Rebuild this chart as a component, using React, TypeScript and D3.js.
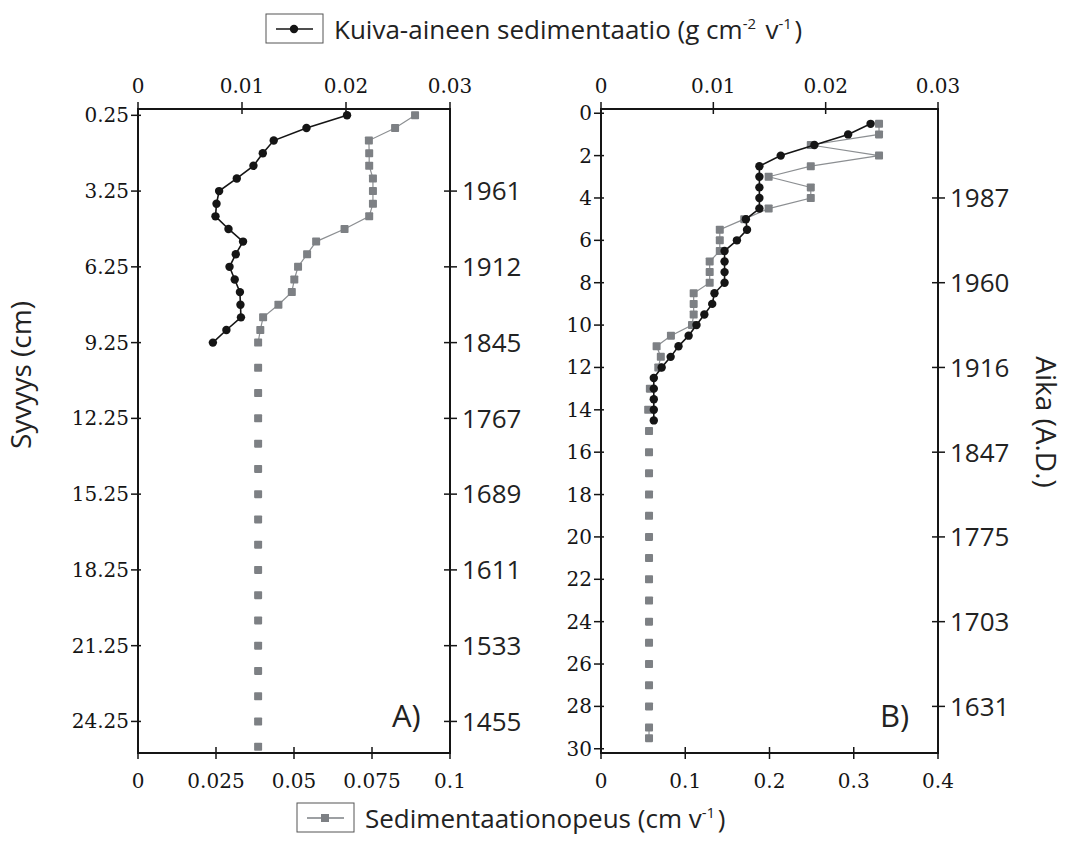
import React, { useRef, useEffect } from 'react';
import * as d3 from 'd3';

// Panel A: depth (cm) vs. dry mass sedimentation (top axis) and sedimentation rate (bottom axis)
const depthDryA = [0.25, 0.75, 1.25, 1.75, 2.25, 2.75, 3.25, 3.75, 4.25, 4.75, 5.25, 5.75, 6.25, 6.75, 7.25, 7.75, 8.25, 8.75, 9.25];
const dryA = [0.0201, 0.0162, 0.01305, 0.012, 0.0111, 0.0095, 0.0078, 0.00755, 0.00745, 0.0087, 0.0101, 0.0094, 0.0088, 0.0093, 0.0098, 0.00985, 0.0099, 0.0085, 0.0072];
const depthRateA = [0.25, 0.75, 1.25, 1.75, 2.25, 2.75, 3.25, 3.75, 4.25, 4.75, 5.25, 5.75, 6.25, 6.75, 7.25, 7.75, 8.25, 8.75, 9.25,
    10.25, 11.25, 12.25, 13.25, 14.25, 15.25, 16.25, 17.25, 18.25, 19.25, 20.25, 21.25, 22.25, 23.25, 24.25, 25.25];
const rateA = [0.0888, 0.0824, 0.074, 0.0741, 0.0741, 0.0753, 0.0753, 0.0753, 0.0741, 0.0662, 0.0571, 0.0542, 0.0513, 0.0501, 0.0493, 0.045, 0.0401, 0.0392, 0.0385,
    0.0385, 0.0385, 0.0385, 0.0385, 0.0385, 0.0385, 0.0385, 0.0385, 0.0385, 0.0385, 0.0385, 0.0385, 0.0385, 0.0385, 0.0385, 0.0385];
const depthTicksA = [0.25, 3.25, 6.25, 9.25, 12.25, 15.25, 18.25, 21.25, 24.25];
const yearTicksA = [[3.25, '1961'], [6.25, '1912'], [9.25, '1845'], [12.25, '1767'], [15.25, '1689'], [18.25, '1611'], [21.25, '1533'], [24.25, '1455']];
const dryTicks = [0, 0.01, 0.02, 0.03];
const rateTicksA = [0, 0.025, 0.05, 0.075, 0.1];

// Panel B
const depthDryB = [0.5, 1, 1.5, 2, 2.5, 3, 3.5, 4, 4.5, 5, 5.5, 6, 6.5, 7, 7.5, 8, 8.5, 9, 9.5, 10, 10.5, 11, 11.5, 12, 12.5, 13, 13.5, 14, 14.5];
const dryB = [0.024, 0.022, 0.019, 0.016, 0.0141, 0.0141, 0.0141, 0.0141, 0.0141, 0.0129, 0.013, 0.0121, 0.011, 0.011, 0.011, 0.011, 0.0101, 0.0099, 0.0092, 0.0085, 0.0078, 0.0069, 0.0062, 0.0054, 0.0047, 0.0047, 0.0047, 0.0047, 0.0047];
const depthRateB = [0.5, 1, 1.5, 2, 2.5, 3, 3.5, 4, 4.5, 5, 5.5, 6, 6.5, 7, 7.5, 8, 8.5, 9, 9.5, 10, 10.5, 11, 11.5, 12,
    13, 14, 15, 16, 17, 18, 19, 20, 21, 22, 23, 24, 25, 26, 27, 28, 29, 29.5];
const rateB = [0.33, 0.33, 0.249, 0.33, 0.249, 0.199, 0.249, 0.249, 0.199, 0.17, 0.141, 0.141, 0.141, 0.129, 0.129, 0.129, 0.11, 0.11, 0.11, 0.108, 0.083, 0.066, 0.071, 0.068,
    0.058, 0.056, 0.057, 0.057, 0.057, 0.057, 0.057, 0.057, 0.057, 0.057, 0.057, 0.057, 0.057, 0.057, 0.057, 0.057, 0.057, 0.057];
const depthTicksB = [0, 2, 4, 6, 8, 10, 12, 14, 16, 18, 20, 22, 24, 26, 28, 30];
const yearTicksB = [[4, '1987'], [8, '1960'], [12, '1916'], [16, '1847'], [20, '1775'], [24, '1703'], [28, '1631']];
const rateTicksB = [0, 0.1, 0.2, 0.3, 0.4];

const SANS = '"Open Sans", sans-serif';
const SERIF = '"DejaVu Serif", serif';
const BLACK = '#151515';
const GREY = '#7d8084';

// split a series into runs of consecutive 0.5 cm slices (gaps are not joined)
const runs = (pts: [number, number][]) => {
    const out: [number, number][][] = [];
    pts.forEach((p, i) => {
        if (i === 0 || p[0] - pts[i - 1][0] > 0.6) out.push([]);
        out[out.length - 1].push(p);
    });
    return out;
};

function App() {
    const ref = useRef<SVGSVGElement>(null);

    useEffect(() => {
        const svg = d3.select(ref.current);
        svg.selectAll('*').remove();

        const top = 109, bottom = 753;

        const panel = (opts: any) => {
            const { left, right, yDomain, dryD, dryV, rateD, rateV, depthTicks, yearTicks, rateTicks, fmtDepth, label } = opts;
            const y = d3.scaleLinear().domain(yDomain).range([top, bottom]);
            const xTop = d3.scaleLinear().domain([0, 0.03]).range([left, right]);
            const xBot = d3.scaleLinear().domain([0, rateTicks[rateTicks.length - 1]]).range([left, right]);
            const g = svg.append('g');

            // frame
            g.append('rect')
                .attr('x', left).attr('y', top)
                .attr('width', right - left).attr('height', bottom - top)
                .attr('fill', 'none').attr('stroke', BLACK).attr('stroke-width', 2);

            const tick = (x1: number, y1: number, x2: number, y2: number) =>
                g.append('line').attr('x1', x1).attr('y1', y1).attr('x2', x2).attr('y2', y2)
                    .attr('stroke', BLACK).attr('stroke-width', 1.5);

            // top axis
            dryTicks.forEach(v => {
                tick(xTop(v), top - 7, xTop(v), top + 5);
                g.append('text').attr('x', xTop(v)).attr('y', top - 16)
                    .attr('text-anchor', 'middle').style('font-family', SERIF).style('font-size', '20px')
                    .attr('fill', BLACK).text(v === 0 ? '0' : String(v));
            });
            // bottom axis
            rateTicks.forEach((v: number) => {
                tick(xBot(v), bottom - 6, xBot(v), bottom + 6);
                g.append('text').attr('x', xBot(v)).attr('y', bottom + 35)
                    .attr('text-anchor', 'middle').style('font-family', SERIF).style('font-size', '20px')
                    .attr('fill', BLACK).text(String(v));
            });
            // left depth axis
            depthTicks.forEach((v: number) => {
                tick(left - 7, y(v), left + 3, y(v));
                g.append('text').attr('x', left - 9).attr('y', y(v)).attr('dy', '0.35em')
                    .attr('text-anchor', 'end').style('font-family', SERIF).style('font-size', '20px')
                    .attr('fill', BLACK).text(fmtDepth(v));
            });
            // right age axis
            yearTicks.forEach(([v, t]: [number, string]) => {
                tick(right - 6, y(v), right + 7, y(v));
                g.append('text').attr('x', right + 12).attr('y', y(v)).attr('dy', '0.36em')
                    .style('font-family', SANS).style('font-size', '26px')
                    .attr('fill', '#222').text(t);
            });

            const line = d3.line<[number, number]>().x(d => d[1]).y(d => d[0]);

            // sedimentation rate (grey squares)
            const ratePts: [number, number][] = rateD.map((d: number, i: number) => [y(d), xBot(rateV[i])]);
            const rateRuns = runs(rateD.map((d: number, i: number) => [d, rateV[i]]));
            rateRuns.forEach(r => {
                g.append('path')
                    .attr('d', line(r.map(p => [y(p[0]), xBot(p[1])])))
                    .attr('fill', 'none').attr('stroke', '#8c8f92').attr('stroke-width', 1.2);
            });
            g.selectAll('.sq').data(ratePts).join('rect')
                .attr('x', d => d[1] - 4).attr('y', d => d[0] - 4)
                .attr('width', 8).attr('height', 8).attr('rx', 0.8)
                .attr('fill', GREY);

            // dry mass sedimentation (black dots)
            const dryPts: [number, number][] = dryD.map((d: number, i: number) => [y(d), xTop(dryV[i])]);
            g.append('path').attr('d', line(dryPts))
                .attr('fill', 'none').attr('stroke', BLACK).attr('stroke-width', 1.6);
            g.selectAll('.dot').data(dryPts).join('circle')
                .attr('cx', d => d[1]).attr('cy', d => d[0]).attr('r', 4.2)
                .attr('fill', BLACK);

            g.append('text').attr('x', right - 58).attr('y', bottom - 26)
                .style('font-family', SANS).style('font-size', '31px').attr('fill', '#222').text(label);
        };

        panel({
            left: 138, right: 450, yDomain: [0, 25.5],
            dryD: depthDryA, dryV: dryA, rateD: depthRateA, rateV: rateA,
            depthTicks: depthTicksA, yearTicks: yearTicksA, rateTicks: rateTicksA,
            fmtDepth: (v: number) => v.toFixed(2), label: 'A)'
        });
        panel({
            left: 601, right: 938, yDomain: [-0.2, 30.2],
            dryD: depthDryB, dryV: dryB, rateD: depthRateB, rateV: rateB,
            depthTicks: depthTicksB, yearTicks: yearTicksB, rateTicks: rateTicksB,
            fmtDepth: (v: number) => String(v), label: 'B)'
        });

        // axis titles
        svg.append('text').attr('transform', 'translate(31, 375) rotate(-90)')
            .attr('text-anchor', 'middle').style('font-family', SANS).style('font-size', '28px')
            .attr('fill', '#222').text('Syvyys (cm)');
        svg.append('text').attr('transform', 'translate(1036, 422) rotate(90)')
            .attr('text-anchor', 'middle').style('font-family', SANS).style('font-size', '28px')
            .attr('fill', '#222').text('Aika (A.D.)');

        // legends
        const legend = (bx: number, by: number, color: string, marker: string, parts: [string, boolean][]) => {
            const lg = svg.append('g');
            lg.append('rect').attr('x', bx).attr('y', by).attr('width', 57).attr('height', 29)
                .attr('fill', 'white').attr('stroke', '#555').attr('stroke-width', 1);
            lg.append('line').attr('x1', bx + 10).attr('x2', bx + 47).attr('y1', by + 15).attr('y2', by + 15)
                .attr('stroke', color).attr('stroke-width', 1.6);
            if (marker === 'circle') {
                lg.append('circle').attr('cx', bx + 28).attr('cy', by + 15).attr('r', 4.2).attr('fill', color);
            } else {
                lg.append('rect').attr('x', bx + 24).attr('y', by + 11).attr('width', 8).attr('height', 8).attr('fill', color);
            }
            const t = lg.append('text').attr('x', bx + 68).attr('y', by + 25)
                .style('font-family', SANS).style('font-size', '26px').attr('fill', '#222');
            parts.forEach(([s, sup]) => {
                if (sup) {
                    t.append('tspan').attr('dy', -10).style('font-size', '15px').text(s);
                    t.append('tspan').attr('dy', 10).text('\u200a');
                } else {
                    t.append('tspan').text(s);
                }
            });
        };
        legend(266, 14, BLACK, 'circle', [['Kuiva-aineen sedimentaatio (g cm', false], ['-2', true], [' v', false], ['-1', true], [')', false]]);
        legend(297, 803, GREY, 'square', [['Sedimentaationopeus (cm v', false], ['-1', true], [')', false]]);
    }, []);

    return (
        <div style={{ position: 'absolute', left: 0, top: 0 }}>
            <svg ref={ref} width={1067} height={843} style={{ display: 'block', background: 'white' }} />
        </div>
    );
}

export default App;
